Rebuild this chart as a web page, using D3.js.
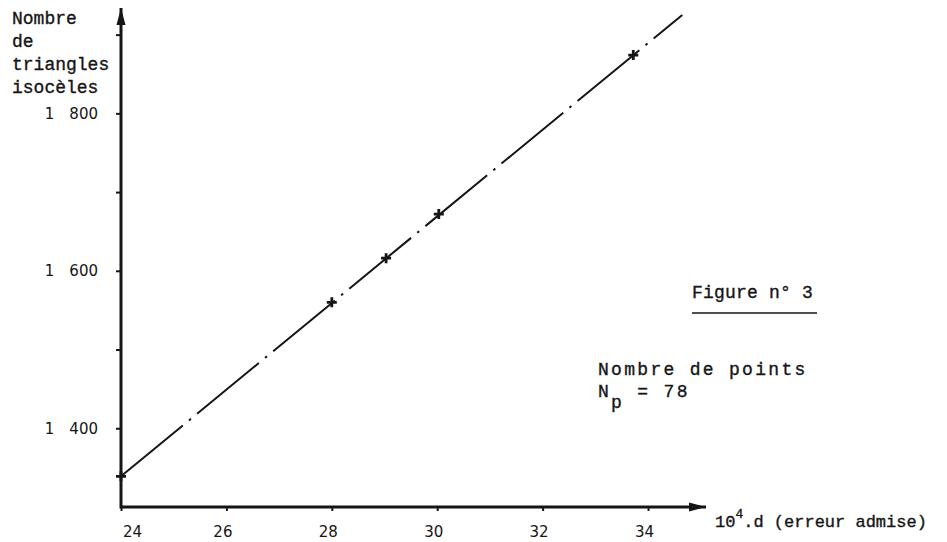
<!DOCTYPE html>
<html>
<head>
<meta charset="utf-8">
<script src="https://cdn.jsdelivr.net/npm/d3@7"></script>
<style>
body { margin: 0; background: #fff; }
svg { display: block; background: #fff; }
.mono { font-family: "Liberation Mono", "DejaVu Sans Mono", monospace; font-size: 18px; fill: #151515; stroke: #151515; stroke-width: 0.35px; }
.tick text { font-family: "DejaVu Sans", sans-serif; font-size: 15px; fill: #151515; }
.tick line { stroke: #151515; stroke-width: 2; }
</style>
</head>
<body>
<svg id="fig3"></svg>
<script>
// Values
const errD   = [24.0, 28.0, 29.03, 30.03, 33.72];   // 10^4.d
const nbTri  = [1339, 1560, 1616, 1672, 1874];      // nombre de triangles isoceles
const lineD  = [24.0, 34.65];                        // fitted line ends
const lineN  = [1339, 1925];
const xTicks = [24, 26, 28, 30, 32, 34];
const yTicks = [1400, 1500, 1600, 1700, 1800, 1900];
const yLabelled = [1400, 1600, 1800];
const yTitle = ["Nombre", "de", "triangles", "isocèles"];

const W = 947, H = 542;
const INK = "#151515";

const svg = d3.select("#fig3").attr("width", W).attr("height", H);

const xScale = d3.scaleLinear().domain([24, 35.1]).range([121, 706]);
const yScale = d3.scaleLinear().domain([1300, 1930]).range([507, 11]);

// arrow heads
const defs = svg.append("defs");
defs.append("marker")
	.attr("id", "arrow")
	.attr("markerUnits", "userSpaceOnUse")
	.attr("viewBox", "0 -6 18 12")
	.attr("markerWidth", 18)
	.attr("markerHeight", 12)
	.attr("refX", 17)
	.attr("refY", 0)
	.attr("orient", "auto")
	.append("path")
	.attr("d", "M0,-4.5L17,0L0,4.5Z")
	.attr("fill", INK);

// space as thousands separator, like "1 400"
const frFormat = d3.formatLocale({decimal: ",", thousands: "\u2003", grouping: [3], currency: ["", ""]}).format(",");

// X-axis
svg.append("g")
	.attr("transform", `translate(0, ${yScale.range()[0]})`)
	.call(d3.axisBottom(xScale).tickValues(xTicks).tickSize(4).tickPadding(15).tickSizeOuter(0))
	.call(g => g.select(".domain").remove())
	.call(g => g.selectAll(".tick text").attr("dx", d => d === 24 ? 11 : -4));

svg.append("line")
	.attr("x1", xScale(24)).attr("y1", yScale.range()[0])
	.attr("x2", xScale.range()[1]).attr("y2", yScale.range()[0])
	.attr("stroke", INK).attr("stroke-width", 3)
	.attr("marker-end", "url(#arrow)");

// Y-axis
svg.append("g")
	.attr("transform", `translate(${xScale(24)}, 0)`)
	.call(d3.axisLeft(yScale).tickValues(yTicks).tickSize(5).tickPadding(18).tickSizeOuter(0)
		.tickFormat(d => yLabelled.includes(d) ? frFormat(d) : ""))
	.call(g => g.select(".domain").remove());

svg.append("line")
	.attr("x1", xScale(24)).attr("y1", yScale.range()[0] + 1.5)
	.attr("x2", xScale(24)).attr("y2", yScale.range()[1] - 3)
	.attr("stroke", INK).attr("stroke-width", 3)
	.attr("marker-end", "url(#arrow)");

// Fitted line, dash-dot
const fit = lineD.map((d, i) => ({d: d, n: lineN[i]}));
svg.append("path")
	.datum(fit)
	.attr("fill", "none")
	.attr("stroke", INK)
	.attr("stroke-width", 2)
	.attr("stroke-dasharray", "80 8 2.5 8")
	.attr("d", d3.line().x(p => xScale(p.d)).y(p => yScale(p.n)));

// Points (+)
const pts = errD.map((d, i) => ({d: d, n: nbTri[i]}));
svg.selectAll(".pt")
	.data(pts)
	.enter()
	.append("path")
	.classed("pt", true)
	.attr("fill", "none")
	.attr("stroke", INK)
	.attr("stroke-width", 2.8)
	.attr("d", p => {
		const cx = xScale(p.d), cy = yScale(p.n);
		return `M${cx - 5},${cy}h10M${cx},${cy - 5}v10`;
	});

// Y title, typewriter
svg.append("text")
	.classed("mono", true)
	.selectAll("tspan")
	.data(yTitle)
	.enter()
	.append("tspan")
	.attr("x", 12)
	.attr("y", (d, i) => 24 + i * 23)
	.text(d => d);

// X title: 10^4.d (erreur admise)
const xt = svg.append("text").classed("mono", true).attr("x", 715).attr("y", 527).style("font-size", "17px");
xt.append("tspan").text("10");
xt.append("tspan").attr("dy", -9).style("font-size", "13px").text("4");
xt.append("tspan").attr("dy", 9).text(".d (erreur admise)");

// Figure caption
svg.append("text").classed("mono", true)
	.attr("x", 692).attr("y", 298)
	.style("letter-spacing", "0.2px")
	.text("Figure n° 3");
svg.append("line")
	.attr("x1", 692).attr("x2", 817)
	.attr("y1", 313).attr("y2", 313)
	.attr("stroke", INK).attr("stroke-width", 1.6);

svg.append("text").classed("mono", true)
	.attr("x", 598).attr("y", 375)
	.style("letter-spacing", "2.3px")
	.text("Nombre de points");

const np = svg.append("text").classed("mono", true)
	.attr("x", 598).attr("y", 397)
	.style("letter-spacing", "2.3px");
np.append("tspan").text("N");
np.append("tspan").attr("dy", 11).text("p");
np.append("tspan").attr("dy", -11).attr("xml:space", "preserve").text(" = 78");
</script>
</body>
</html>
